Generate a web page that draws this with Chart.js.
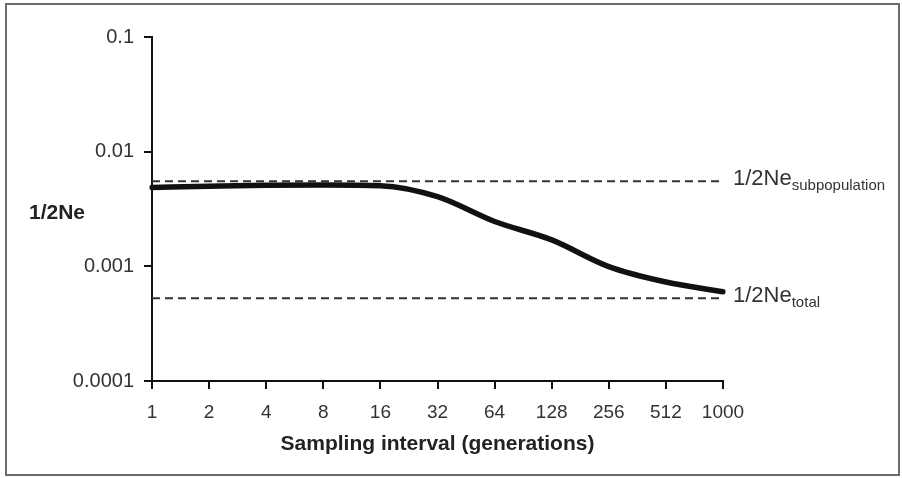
<!DOCTYPE html>
<html>
<head>
<meta charset="utf-8">
<script src="https://cdn.jsdelivr.net/npm/chart.js@4.4.1/dist/chart.umd.min.js"></script>
<style>
  html, body { margin: 0; padding: 0; background: #fff; }
  #wrap { position: relative; width: 902px; height: 478px; }
</style>
</head>
<body>
<div id="wrap"><canvas id="neChart" width="902" height="478"></canvas></div>
<script>
    // data
    var intervals = ["1", "2", "4", "8", "16", "32", "64", "128", "256", "512", "1000"];
    var invNe = [0.00488, 0.0050, 0.0051, 0.00512, 0.00505, 0.00405, 0.00246, 0.00170, 0.000995, 0.00073, 0.00060];
    var subpopLevel = 0.00551;
    var totalLevel = 0.000527;
    var yTicks = [0.0001, 0.001, 0.01, 0.1];

    var fontFamily = "'Liberation Sans', Arial, sans-serif";

    function flat(v) {
        return intervals.map(function () { return v; });
    }

    // frame, axis titles and the two right-hand labels
    var annotations = {
        id: 'annotations',
        beforeDraw: function (chart) {
            var c = chart.ctx;
            c.save();
            c.fillStyle = '#fff';
            c.fillRect(0, 0, chart.width, chart.height);
            c.strokeStyle = '#6b6b6b';
            c.lineWidth = 2;
            c.strokeRect(6, 4, chart.width - 9, chart.height - 7);
            c.restore();
        },
        afterDraw: function (chart) {
            var c = chart.ctx;
            var y = chart.scales.y;
            var area = chart.chartArea;
            c.save();
            c.fillStyle = '#222';
            c.font = 'bold 21px ' + fontFamily;
            c.textBaseline = 'middle';
            c.textAlign = 'center';
            c.fillText('Sampling interval (generations)', (area.left + area.right) / 2, 444);
            c.fillText('1/2Ne', 57, 213);

            c.textAlign = 'left';
            c.textBaseline = 'alphabetic';
            c.fillStyle = '#333';
            var lx = area.right + 10;
            function sub(main, small, yy) {
                c.font = '22px ' + fontFamily;
                c.fillText(main, lx, yy + 3.5);
                var w = c.measureText(main).width;
                c.font = '15px ' + fontFamily;
                c.fillText(small, lx + w, yy + 8.5);
            }
            sub('1/2Ne', 'subpopulation', y.getPixelForValue(subpopLevel));
            sub('1/2Ne', 'total', y.getPixelForValue(totalLevel));
            c.restore();
        }
    };

    var ctx = document.getElementById("neChart");
    var myChart = new Chart(ctx, {
        type: 'line',
        data: {
            labels: intervals,
            datasets: [{
                data: invNe,
                borderColor: '#111',
                borderWidth: 5.5,
                pointRadius: 0,
                cubicInterpolationMode: 'monotone',
                borderCapStyle: 'round'
            }, {
                data: flat(subpopLevel),
                borderColor: '#333',
                borderWidth: 2,
                borderDash: [8, 5],
                pointRadius: 0,
                tension: 0
            }, {
                data: flat(totalLevel),
                borderColor: '#333',
                borderWidth: 2,
                borderDash: [8, 5],
                pointRadius: 0,
                tension: 0
            }]
        },
        options: {
            responsive: false,
            animation: false,
            devicePixelRatio: 1,
            layout: { padding: { left: 0, top: 37, right: 179, bottom: 0 } },
            plugins: {
                legend: { display: false },
                tooltip: { enabled: false }
            },
            scales: {
                x: {
                    type: 'category',
                    offset: false,
                    grid: { drawOnChartArea: false, drawTicks: true, tickLength: 8, color: '#111', lineWidth: 2 },
                    border: { color: '#111', width: 2 },
                    ticks: { color: '#333', font: { size: 19, family: fontFamily }, padding: 12, maxRotation: 0, autoSkip: false },
                    afterFit: function (scale) { scale.height = 97; }
                },
                y: {
                    type: 'logarithmic',
                    min: 0.0001,
                    max: 0.1,
                    grid: { drawOnChartArea: false, drawTicks: true, tickLength: 8, color: '#111', lineWidth: 2 },
                    border: { color: '#111', width: 2 },
                    ticks: {
                        color: '#333',
                        font: { size: 20, family: fontFamily },
                        padding: 10,
                        callback: function (v) { return String(v); }
                    },
                    afterBuildTicks: function (scale) {
                        scale.ticks = yTicks.map(function (v) { return { value: v }; });
                    },
                    afterFit: function (scale) { scale.width = 152; }
                }
            }
        },
        plugins: [annotations]
    });
</script>
</body>
</html>
